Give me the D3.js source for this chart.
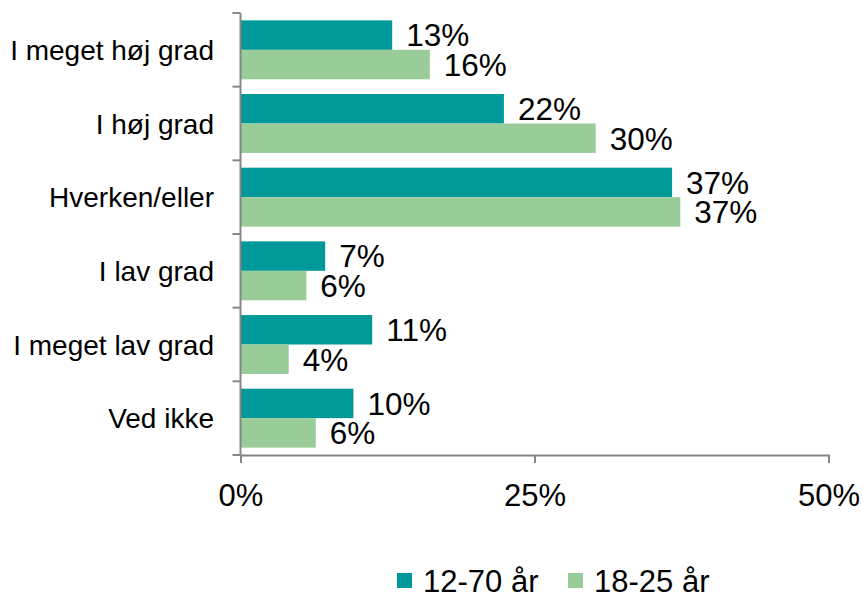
<!DOCTYPE html>
<html>
<head>
<meta charset="utf-8">
<script src="https://cdn.jsdelivr.net/npm/d3@7"></script>
<style>
  body { margin: 0; background: #fff; }
  text { font-family: "Liberation Sans", Arial, sans-serif; fill: #000; }
</style>
</head>
<body>
<div id="chart"></div>
<script>
// data
var categories = ["I meget høj grad", "I høj grad", "Hverken/eller", "I lav grad", "I meget lav grad", "Ved ikke"];
var seriesNames = ["12-70 år", "18-25 år"];
var seriesColors = ["#009999", "#99cc99"];
var values1270 = [12.9, 22.4, 36.7, 7.2, 11.2, 9.6];
var values1825 = [16.1, 30.2, 37.4, 5.6, 4.1, 6.4];
var xTicks = [0, 25, 50];

var width = 863, height = 594;
var plotLeft = 240.5, plotRight = 828.5, plotTop = 13, plotBottom = 455;

var svg = d3.select("#chart").append("svg")
  .attr("width", width)
  .attr("height", height);

var x = d3.scaleLinear().domain([0, 50]).range([plotLeft, plotRight]);
var y = d3.scaleBand().domain(categories).range([plotTop, plotBottom]).paddingInner(0.2).paddingOuter(0.1);
var sub = d3.scaleBand().domain([0, 1]).range([0, y.bandwidth()]);

var rows = categories.map(function(c, i) {
  return { cat: c, vals: [values1270[i], values1825[i]] };
});

// bars
var groups = svg.selectAll("g.row")
  .data(rows)
  .enter().append("g")
  .attr("class", "row")
  .attr("transform", function(d) { return "translate(0," + y(d.cat) + ")"; });

groups.selectAll("rect")
  .data(function(d) { return d.vals; })
  .enter().append("rect")
  .attr("x", x(0))
  .attr("y", function(d, i) { return sub(i); })
  .attr("width", function(d) { return x(d) - x(0); })
  .attr("height", sub.bandwidth())
  .attr("fill", function(d, i) { return seriesColors[i]; });

groups.selectAll("text")
  .data(function(d) { return d.vals; })
  .enter().append("text")
  .attr("x", function(d) { return x(d) + 14; })
  .attr("y", function(d, i) { return sub(i) + sub.bandwidth() / 2; })
  .attr("dy", "0.36em")
  .style("font-size", "31.5px")
  .text(function(d) { return Math.round(d) + "%"; });

// y axis: line with ticks at band boundaries
var axisColor = "#868686";
svg.append("line")
  .attr("x1", x(0)).attr("x2", x(0))
  .attr("y1", plotTop).attr("y2", plotBottom)
  .attr("stroke", axisColor).attr("stroke-width", 2);

var step = y.step();
var bounds = categories.map(function(c) { return y(c) - step * 0.1; }).concat([plotBottom]);
svg.selectAll("line.ytick")
  .data(bounds)
  .enter().append("line")
  .attr("class", "ytick")
  .attr("x1", x(0) - 8).attr("x2", x(0))
  .attr("y1", function(d) { return d; }).attr("y2", function(d) { return d; })
  .attr("stroke", axisColor).attr("stroke-width", 2);

svg.selectAll("text.cat")
  .data(categories)
  .enter().append("text")
  .attr("class", "cat")
  .attr("x", 214)
  .attr("y", function(d) { return y(d) + y.bandwidth() / 2; })
  .attr("dy", "0.36em")
  .attr("text-anchor", "end")
  .style("font-size", "28px")
  .text(function(d) { return d; });

// x axis
var xAxis = svg.append("g")
  .attr("transform", "translate(0," + plotBottom + ")")
  .call(d3.axisBottom(x).tickValues(xTicks).tickSize(8).tickPadding(21)
    .tickFormat(function(d) { return d + "%"; }));
xAxis.select(".domain").attr("stroke", axisColor).attr("stroke-width", 2);
xAxis.selectAll(".tick line").attr("stroke", axisColor).attr("stroke-width", 2);
xAxis.selectAll(".tick text")
  .style("font-size", "31px")
  .style("font-family", "'Liberation Sans', Arial, sans-serif")
  .attr("fill", "#000");

// legend
var legendX = [397, 568];
var legend = svg.selectAll("g.legend")
  .data(seriesNames)
  .enter().append("g")
  .attr("class", "legend")
  .attr("transform", function(d, i) { return "translate(" + legendX[i] + ",573)"; });
legend.append("rect")
  .attr("width", 15).attr("height", 15)
  .attr("fill", function(d, i) { return seriesColors[i]; });
legend.append("text")
  .attr("x", 26).attr("y", 7.5)
  .attr("dy", "0.36em")
  .style("font-size", "31px")
  .text(function(d) { return d; });
</script>
</body>
</html>
